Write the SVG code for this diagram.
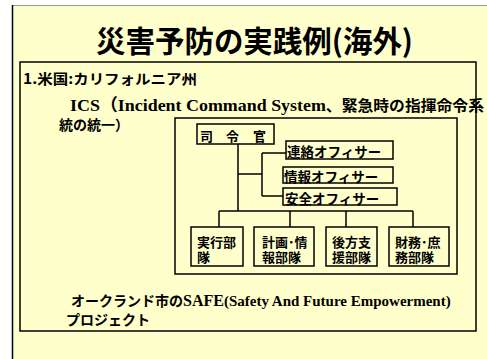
<svg xmlns="http://www.w3.org/2000/svg" width="487" height="359" viewBox="0 0 487 359">
<style>
.jp{font-family:"Noto Sans CJK JP","Liberation Sans",sans-serif;font-weight:700;fill:#000}
.lt{font-family:"Liberation Serif","Noto Sans CJK JP",serif;font-weight:700;fill:#000}
.box{fill:none;stroke:#000;stroke-width:1.5}
.ln{fill:none;stroke:#000;stroke-width:1.5}
.bt{font-size:13px}
</style>
<rect x="0" y="0" width="487" height="359" fill="#fff"/>
<rect x="12" y="5" width="475" height="354" fill="#FFFFCC"/>
<line x1="12" y1="5.5" x2="487" y2="5.5" stroke="#999" stroke-width="1"/>
<line x1="12.5" y1="5" x2="12.5" y2="359" stroke="#000" stroke-width="1.5"/>
<g id="title">
<text class="jp" x="96" y="52" font-size="30" textLength="317" lengthAdjust="spacingAndGlyphs">災害予防の実践例(海外)</text>
</g>
<g id="frame">
<rect class="box" x="20" y="62" width="456" height="269"/>
<text class="jp" x="23" y="84" font-size="14" textLength="174" lengthAdjust="spacingAndGlyphs">1.米国:カリフォルニア州</text>
<text x="70" y="111" font-size="17" textLength="414" lengthAdjust="spacingAndGlyphs"><tspan class="lt">ICS（Incident Command System</tspan><tspan class="jp" font-size="15">、緊急時の指揮命令系</tspan></text>
<text class="jp" x="59" y="130" font-size="14">統の統一）</text>
<text x="71" y="306" font-size="15"><tspan class="jp" font-size="14">オークランド市の</tspan><tspan class="lt" font-size="16">SAFE</tspan><tspan class="lt">(Safety And Future Empowerment)</tspan></text>
<text class="jp" x="66" y="325" font-size="14">プロジェクト</text>
</g>
<g id="org">
<rect class="box" x="175" y="118" width="282" height="156"/>
</g>
<g id="connectors">
<path class="ln" d="M238 144V211M238 174H262M262 153V196M262 153H286M262 196H283M219 211H413M219 211V227M290 211V227M346 211V227M413 211V227"/>
</g>
<g id="commander">
<rect class="box" x="197" y="124" width="77" height="20"/>
<text class="jp bt" y="141"><tspan x="200">司</tspan><tspan x="226">令</tspan><tspan x="253">官</tspan></text>
</g>
<g id="liaison">
<rect class="box" x="286" y="141" width="107" height="18"/>
<text class="jp" x="287" y="157" font-size="13.5">連絡オフィサー</text>
</g>
<g id="info">
<rect class="box" x="283" y="167" width="110" height="16"/>
<text class="jp" x="284" y="182" font-size="13.5">情報オフィサー</text>
</g>
<g id="safety">
<rect class="box" x="283" y="188" width="114" height="17"/>
<text class="jp" x="285" y="204" font-size="13.5">安全オフィサー</text>
</g>
<g id="ops">
<rect class="box" x="191" y="227" width="52" height="39"/>
<text class="jp bt"><tspan x="197" y="247">実行部</tspan><tspan x="197" y="262">隊</tspan></text>
</g>
<g id="plan">
<rect class="box" x="254" y="227" width="60" height="39"/>
<text class="jp bt"><tspan x="262" y="247">計画･情</tspan><tspan x="262" y="262">報部隊</tspan></text>
</g>
<g id="logistics">
<rect class="box" x="326" y="227" width="51" height="39"/>
<text class="jp bt"><tspan x="332" y="247">後方支</tspan><tspan x="332" y="262">援部隊</tspan></text>
</g>
<g id="finance">
<rect class="box" x="389" y="227" width="60" height="39"/>
<text class="jp bt"><tspan x="395" y="247">財務･庶</tspan><tspan x="395" y="262">務部隊</tspan></text>
</g>
</svg>
